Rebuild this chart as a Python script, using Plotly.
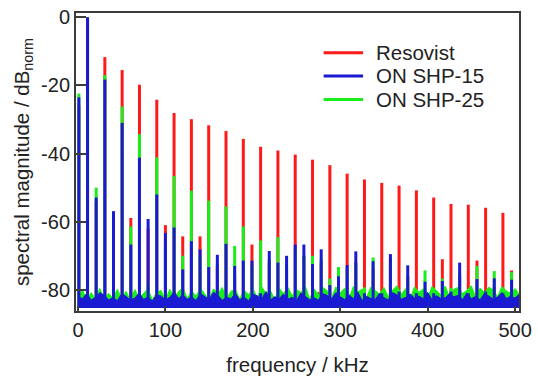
import plotly.graph_objects as go

# Harmonic frequencies of the drive field (kHz), harmonic numbers 0..50
HARMONIC_KHZ = [
    1.0, 10.9, 20.8, 30.7, 40.6, 50.5, 60.4, 70.3, 80.2, 90.1,
    100.0, 109.9, 119.8, 129.7, 139.6, 149.5, 159.4, 169.3, 179.2, 189.1,
    199.0, 208.9, 218.8, 228.7, 238.6, 248.5, 258.4, 268.3, 278.2, 288.1,
    298.0, 307.9, 317.8, 327.7, 337.6, 347.5, 357.4, 367.3, 377.2, 387.1,
    397.0, 406.9, 416.8, 426.7, 436.6, 446.5, 456.4, 466.3, 476.2, 486.1,
    496.0,
]

# Normalised harmonic magnitudes (dB) for each tracer
RESOVIST_DB = [
    -26.0, 0.0, -54.0, -11.7, -60.0, -15.5, -58.9, -19.8, -62.0, -24.2,
    -61.0, -28.1, -64.3, -29.9, -64.3, -31.7, -73.0, -33.4, -76.0, -35.7,
    -66.7, -38.0, -72.0, -39.1, -74.0, -40.3, -70.0, -41.8, -72.0, -43.4,
    -79.0, -45.9, -72.0, -47.6, -74.0, -48.6, -70.7, -49.4, -76.0, -50.8,
    -80.0, -52.9, -71.0, -54.8, -76.0, -55.0, -71.4, -55.9, -79.0, -57.4,
    -74.3,
]
SHP25_DB = [
    -22.4, 0.0, -50.0, -17.0, -80.0, -26.2, -61.4, -34.3, -78.0, -41.1,
    -66.0, -46.6, -70.0, -50.9, -70.0, -53.8, -72.0, -55.5, -67.1, -61.4,
    -73.0, -65.5, -71.0, -64.5, -72.0, -68.0, -70.0, -70.0, -71.0, -76.7,
    -73.3, -74.0, -72.0, -79.3, -70.5, -80.5, -72.0, -80.5, -76.0, -80.5,
    -74.3, -80.5, -76.7, -79.4, -75.0, -80.5, -73.0, -80.5, -74.5, -80.0,
    -74.8,
]
SHP15_DB = [
    -23.5, 0.0, -52.9, -18.3, -56.9, -31.0, -66.7, -41.2, -59.2, -52.0,
    -63.3, -61.7, -74.0, -65.7, -68.1, -73.3, -69.7, -66.5, -73.0, -71.4,
    -71.4, -81.0, -68.6, -72.0, -70.0, -66.7, -66.7, -72.4, -68.1, -78.6,
    -76.0, -72.7, -68.7, -81.0, -71.6, -81.0, -69.5, -80.5, -72.8, -81.0,
    -77.6, -81.0, -77.4, -80.5, -72.0, -81.0, -76.8, -80.5, -76.6, -81.0,
    -77.0,
]

# Noise floor (upper envelope, dB) sampled every 5 kHz from 0 to 505 kHz
FLOOR_KHZ = list(range(0, 510, 5))
RESOVIST_FLOOR = [
    -84.0, -83.2, -84.4, -81.4, -83.6, -84.1, -83.0, -84.3, -83.5, -84.2,
    -83.1, -84.4, -81.0, -83.7, -84.0, -83.3, -84.5, -83.8, -83.0, -84.2,
    -83.6, -84.1, -79.9, -83.4, -84.3, -83.0, -84.0, -83.7, -84.4, -83.2,
    -83.9, -84.2, -83.3, -81.8, -84.1, -83.5, -84.4, -83.1, -84.0, -83.6,
    -84.3, -83.2, -83.9, -80.9, -84.2, -83.4, -84.0, -83.7, -84.4, -83.1,
    -83.8, -84.1, -83.3, -84.5, -83.0, -80.6, -84.2, -83.6, -84.0, -83.4,
    -84.3, -83.1, -83.9, -84.2, -81.2, -83.5, -84.4, -83.0, -83.8, -84.1,
    -83.3, -84.0, -80.8, -83.6, -84.3, -83.2, -84.1, -83.7, -84.4, -83.0,
    -83.9, -84.2, -83.4, -81.5, -84.0, -83.6, -84.3, -83.1, -83.8, -84.1,
    -83.2, -84.4, -83.7, -80.9, -84.0, -83.3, -84.2, -83.6, -83.9, -84.3,
    -83.5, -84.0,
]
SHP25_FLOOR = [
    -82.8, -80.0, -83.0, -80.8, -82.6, -79.6, -82.9, -81.0, -82.5, -79.8,
    -82.7, -80.4, -83.2, -79.9, -82.5, -81.2, -79.6, -82.9, -80.7, -80.2,
    -83.0, -79.8, -82.4, -80.5, -79.2, -82.6, -80.3, -81.8, -79.5, -81.2,
    -82.8, -79.7, -81.2, -79.3, -82.5, -80.4, -79.8, -82.7, -80.0, -81.5,
    -79.6, -82.3, -79.0, -81.0, -80.1, -82.9, -79.4, -81.1, -79.2, -81.8,
    -79.9, -80.8, -78.9, -82.6, -79.7, -81.4, -79.3, -80.2, -82.4, -79.1,
    -80.9, -79.5, -82.5, -79.0, -80.6, -79.8, -82.2, -79.2, -80.3, -81.2,
    -79.3, -82.0, -80.0, -78.8, -81.3, -79.6, -82.6, -79.1, -80.7, -79.7,
    -82.4, -79.0, -80.2, -81.5, -78.9, -82.1, -79.8, -79.3, -81.1, -80.1,
    -78.8, -82.3, -79.5, -80.8, -79.2, -80.0, -82.0, -79.0, -80.3, -81.0,
    -79.6, -81.4,
]
SHP15_FLOOR = [
    -82.0, -82.6, -81.0, -83.0, -82.2, -80.8, -81.6, -82.9, -82.3, -83.1,
    -81.2, -81.9, -83.0, -82.4, -80.9, -82.8, -82.1, -83.2, -81.4, -81.8,
    -82.9, -82.2, -80.6, -82.5, -81.5, -82.7, -82.0, -83.1, -81.1, -81.9,
    -82.8, -80.7, -81.6, -83.0, -82.2, -82.6, -81.0, -82.9, -82.1, -83.2,
    -81.3, -81.7, -82.8, -80.5, -83.0, -82.0, -82.6, -81.2, -82.7, -82.2,
    -83.1, -80.9, -81.8, -82.9, -82.3, -83.0, -81.1, -81.6, -82.7, -80.8,
    -82.0, -82.8, -81.4, -82.6, -80.6, -83.1, -81.9, -82.5, -82.8, -81.0,
    -82.3, -82.9, -80.8, -81.5, -82.7, -82.2, -81.2, -82.4, -81.8, -82.6,
    -80.7, -82.9, -81.7, -82.5, -82.3, -81.1, -82.0, -81.6, -82.8, -80.9,
    -82.6, -81.9, -82.9, -81.0, -81.8, -82.7, -82.1, -80.8, -82.5, -81.9,
    -82.4, -81.2,
]

X_TICKS = [0, 100, 200, 300, 400, 500]
Y_TICKS = [0, -20, -40, -60, -80]

BAND_BOTTOM = -85.3
FONT = "Liberation Sans, Arial, sans-serif"
AXIS_COLOR = "#3c3c3c"
TEXT_COLOR = "#222222"

# drawn back to front: Resovist, SHP-25, SHP-15
SERIES = [
    ("Resovist", "#ff1a1a", RESOVIST_DB, RESOVIST_FLOOR),
    ("ON SHP-25", "#1aee1a", SHP25_DB, SHP25_FLOOR),
    ("ON SHP-15", "#1a1ad2", SHP15_DB, SHP15_FLOOR),
]
LEGEND_ORDER = ["Resovist", "ON SHP-15", "ON SHP-25"]

fig = go.Figure()
for name, color, peaks, floor in SERIES:
    fig.add_trace(go.Scatter(
        x=FLOOR_KHZ, y=[BAND_BOTTOM] * len(FLOOR_KHZ), mode="lines",
        line=dict(width=0, color=color), showlegend=False, hoverinfo="skip"))
    fig.add_trace(go.Scatter(
        x=FLOOR_KHZ, y=floor, mode="lines", line=dict(width=1, color=color),
        fill="tonexty", fillcolor=color, showlegend=False, hoverinfo="skip"))
    xs, ys = [], []
    for f, v in zip(HARMONIC_KHZ, peaks):
        xs += [f, f, None]
        ys += [BAND_BOTTOM, v, None]
    fig.add_trace(go.Scatter(
        x=xs, y=ys, mode="lines", line=dict(width=3, color=color),
        name=name, showlegend=False))

# legend: line sample + label per tracer, placed in the upper right of the plot
colors = {name: color for name, color, _, _ in SERIES}
legend_rows = [0.867, 0.789, 0.710]
for name, ypos in zip(LEGEND_ORDER, legend_rows):
    fig.add_shape(type="line", xref="paper", yref="paper",
                  x0=0.559, x1=0.648, y0=ypos, y1=ypos,
                  line=dict(color=colors[name], width=3))
    fig.add_annotation(xref="paper", yref="paper", x=0.672, y=ypos,
                       xanchor="left", yanchor="middle", text=name,
                       showarrow=False,
                       font=dict(family=FONT, size=20.5, color=TEXT_COLOR))

axis_common = dict(
    showline=True, mirror=True, linecolor=AXIS_COLOR, linewidth=2,
    showgrid=False, zeroline=False, ticks="inside", tickcolor=AXIS_COLOR,
    tickwidth=1.5, tickfont=dict(family=FONT, size=20, color=TEXT_COLOR),
)

fig.update_layout(
    width=538, height=379,
    margin=dict(l=76, r=13, t=6, b=67),
    paper_bgcolor="white", plot_bgcolor="white",
    font=dict(family=FONT, size=20, color=TEXT_COLOR),
    showlegend=False,
    xaxis=dict(
        range=[-2.3, 504.5], tickvals=X_TICKS, ticklen=5,
        title=dict(text="frequency / kHz", standoff=18,
                   font=dict(family=FONT, size=20.5, color=TEXT_COLOR)),
        **axis_common),
    yaxis=dict(
        range=[-86.2, 1.25], tickvals=Y_TICKS,
        ticktext=[str(v) for v in Y_TICKS], ticklen=10,
        title=dict(text="spectral magnitude / dB<sub>norm</sub>", standoff=6,
                   font=dict(family=FONT, size=20.5, color=TEXT_COLOR)),
        **axis_common),
)

fig.write_html("out.html")
